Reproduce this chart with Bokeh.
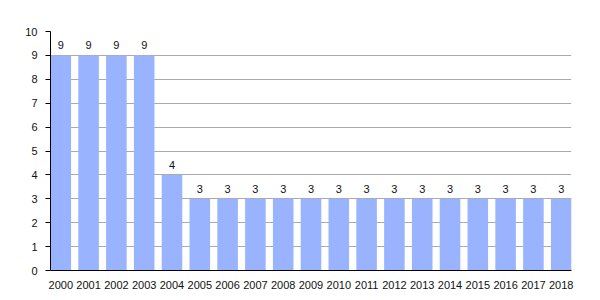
from bokeh.plotting import figure
from bokeh.models import ColumnDataSource, FixedTicker, Range1d
from bokeh.embed import file_html
from bokeh.resources import INLINE
from bokeh.core.properties import value

years = [str(y) for y in range(2000, 2019)]
counts = [9, 9, 9, 9, 4, 3, 3, 3, 3, 3, 3, 3, 3, 3, 3, 3, 3, 3, 3]

xs = list(range(len(years)))
src = ColumnDataSource(dict(x=xs, top=counts, label=[str(c) for c in counts]))

bw = 0.74
p = figure(width=600, height=300, output_backend="svg", toolbar_location=None,
           x_range=Range1d(-bw / 2, len(years) - 1 + bw / 2), y_range=Range1d(0, 10),
           min_border_left=50, min_border_right=29, min_border_top=31, min_border_bottom=30)
p.outline_line_color = None
p.background_fill_color = "white"

p.vbar(x="x", top="top", width=bw, bottom=0, source=src, fill_color="#99b3ff", line_color=None)
p.text(x="x", y="top", text="label", source=src, text_align="center", text_baseline="bottom",
       y_offset=-6, text_font=value("Liberation Sans"), text_font_size="11px", text_color="#111111")

p.xaxis.ticker = FixedTicker(ticks=xs)
p.xaxis.major_label_overrides = {i: y for i, y in enumerate(years)}
p.xaxis.major_tick_line_color = None
p.xaxis.minor_tick_line_color = None
p.xaxis.axis_line_color = "black"
p.xaxis.major_label_text_font = "Liberation Sans"
p.xaxis.major_label_text_font_size = "11px"
p.xaxis.major_label_text_color = "#111111"
p.xaxis.major_label_standoff = 4

p.yaxis.ticker = FixedTicker(ticks=list(range(0, 11)))
p.yaxis.major_tick_in = 0
p.yaxis.major_tick_out = 5
p.yaxis.minor_tick_line_color = None
p.yaxis.axis_line_color = "black"
p.yaxis.major_label_text_font = "Liberation Sans"
p.yaxis.major_label_text_font_size = "11px"
p.yaxis.major_label_text_color = "#111111"
p.yaxis.major_label_standoff = 8

p.xgrid.grid_line_color = None
p.ygrid.grid_line_color = "#aaaaaa"
p.ygrid.level = "underlay"

open("out.html", "w").write(file_html(p, INLINE))
